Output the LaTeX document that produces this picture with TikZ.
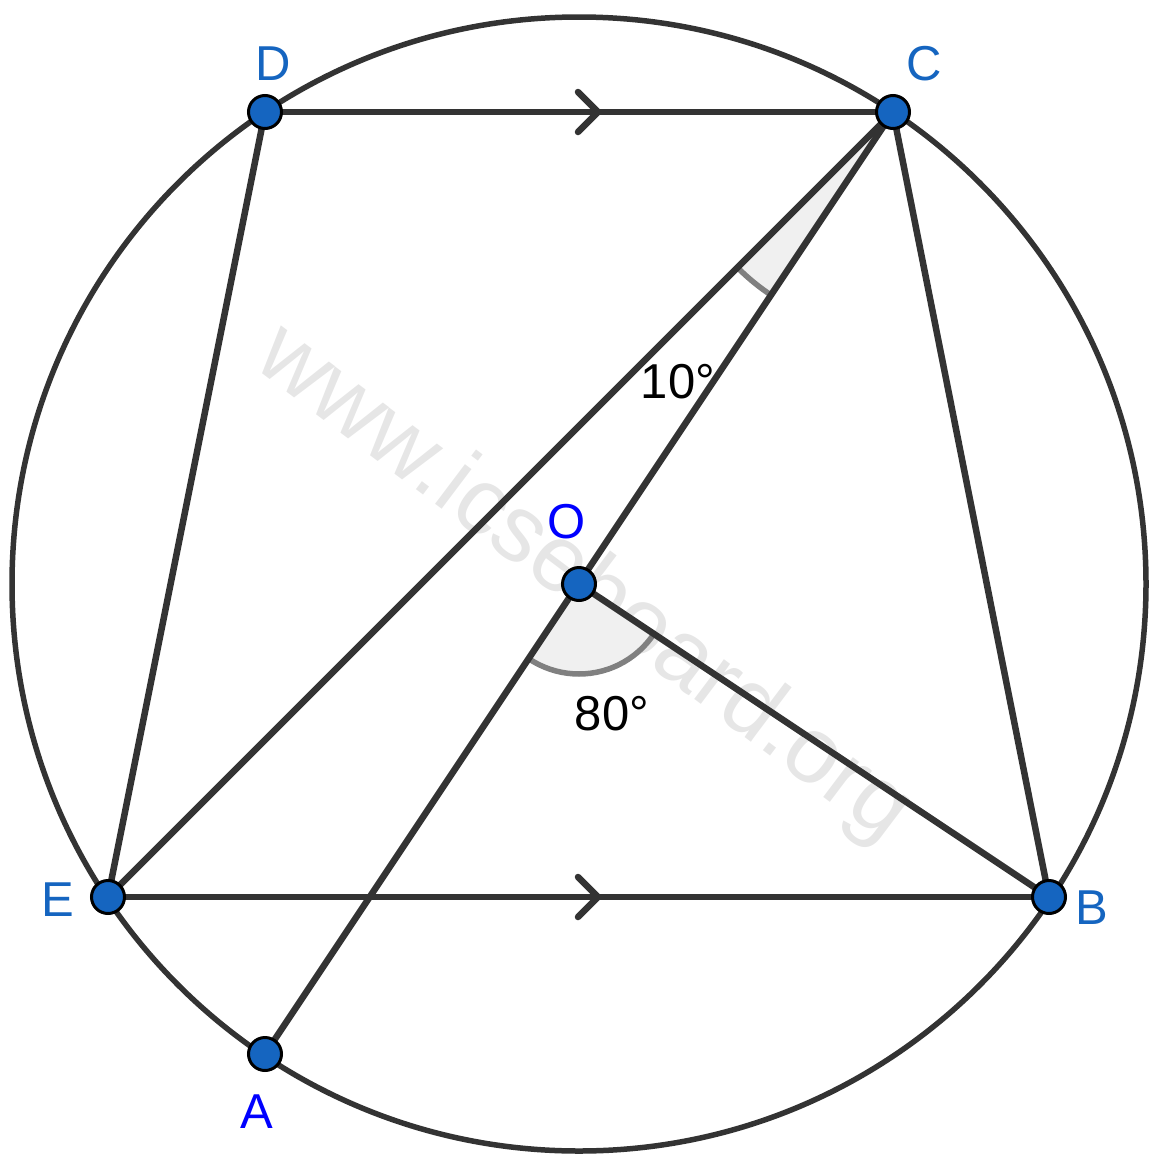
\documentclass[tikz,border=0pt]{standalone}
\usepackage{fontspec}
\setmainfont{Liberation Sans}
\usetikzlibrary{angles,calc}
\definecolor{ptblue}{HTML}{1565C0}
\definecolor{lbl}{HTML}{1565C0}
\definecolor{lnc}{HTML}{333333}
\definecolor{wm}{HTML}{E6E6E6}
\definecolor{secfill}{HTML}{F0F0F0}
\tikzset{
  seg/.style={draw=lnc, line width=6.5pt},
  pt/.style={circle, fill=ptblue, draw=black, line width=3pt, minimum size=33pt, inner sep=0pt},
  lab/.style={text=lbl, font=\fontsize{49}{52}\selectfont},
  labb/.style={text=blue, font=\fontsize{49}{52}\selectfont},
  deg/.style={text=black, font=\fontsize{49}{52}\selectfont},
  chev/.style={draw=lnc, line width=6.5pt, line cap=round, line join=round},
  sector/.style={fill=secfill, draw=gray, line width=5.5pt}
}
\begin{document}
\begin{tikzpicture}[x=1pt,y=-1pt]
\useasboundingbox (0,0) rectangle (1161,1165);
% watermark
\node[text=wm, rotate=-37, font=\fontsize{94}{98}\selectfont] (wmk) at (583,585) {www.icseboard.org};
% coordinates
\coordinate (O) at (579,584);
\coordinate (D) at (265,112);
\coordinate (C) at (893,112);
\coordinate (E) at (108,897);
\coordinate (B) at (1049,897);
\coordinate (A) at (265,1054);
% sectors
\pic[sector, angle radius=220pt] {angle = E--C--O};
\pic[sector, angle radius=90pt] {angle = A--O--B};
% circle
\draw[draw=lnc, line width=5.5pt] (O) circle[radius=567];
% segments
\draw[seg] (D) -- (C);
\draw[seg] (C) -- (B);
\draw[seg] (D) -- (E);
\draw[seg] (E) -- (B);
\draw[seg] (E) -- (C);
\draw[seg] (A) -- (C);
\draw[seg] (O) -- (B);
% chevrons
\coordinate (m1) at (598,112);
\coordinate (m2) at (598,897);
\draw[chev] ($(m1)+(-20,-20)$) -- (m1) -- ($(m1)+(-20,20)$);
\draw[chev] ($(m2)+(-20,-20)$) -- (m2) -- ($(m2)+(-20,20)$);
% points
\node[pt] (pD) at (D) {};
\node[pt] (pC) at (C) {};
\node[pt] (pE) at (E) {};
\node[pt] (pB) at (B) {};
\node[pt] (pA) at (A) {};
\node[pt] (pO) at (O) {};
% labels
\node[lab] (lD) at (273,64) {D};
\node[lab] (lC) at (924,64) {C};
\node[lab] (lE) at (58,900) {E};
\node[lab] (lB) at (1092,908) {B};
\node[labb] (lO) at (567,522) {O};
\node[labb] (lA) at (257,1112) {A};
\node[deg] (d10) at (678,382) {10°};
\node[deg] (d80) at (612,714) {80°};
\end{tikzpicture}
\end{document}
